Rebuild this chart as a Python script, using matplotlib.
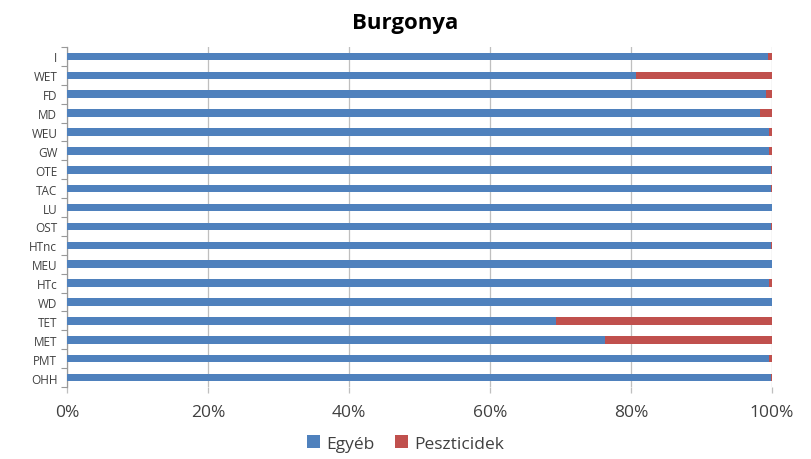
import numpy as np
import matplotlib.pyplot as plt

plt.rcParams['font.family'] = ['Open Sans', 'DejaVu Sans']

categories = ["I", "WET", "FD", "MD", "WEU", "GW", "OTE", "TAC", "LU", "OST",
              "HTnc", "MEU", "HTc", "WD", "TET", "MET", "PMT", "OHH"]
egyeb = [99.4, 80.7, 99.1, 98.3, 99.5, 99.6, 99.8, 99.9, 99.95, 99.9,
         99.8, 99.95, 99.6, 99.95, 69.4, 76.3, 99.6, 99.8]
peszticidek = [100 - v for v in egyeb]

blue = "#4F81BD"
red = "#C0504D"

fig = plt.figure(figsize=(8.11, 4.6), dpi=100)
ax = fig.add_axes([0.0826, 0.1565, 0.8694, 0.7392])

y = np.arange(len(categories))[::-1]
ax.barh(y, egyeb, height=0.4, color=blue, label="Egyéb", zorder=3)
ax.barh(y, peszticidek, left=egyeb, height=0.4, color=red,
        label="Peszticidek", zorder=3)

ax.set_xlim(0, 100)
ax.set_ylim(-0.5, len(categories) - 0.5)
ax.set_xticks(np.arange(0, 101, 20))
ax.set_xticklabels([f"{v}%" for v in range(0, 101, 20)], fontsize=12.5,
                   color="#404040")
ax.set_yticks(y)
ax.set_yticklabels(categories, fontsize=8.5, color="#404040")
ax.set_yticks(np.arange(-0.5, len(categories), 1), minor=True)

ax.grid(axis="x", color="#BFBFBF", linewidth=0.9, zorder=0)
ax.tick_params(axis="y", which="major", length=0, pad=7)
ax.tick_params(axis="y", which="minor", length=4, color="#999999", width=0.8)
ax.tick_params(axis="x", length=4, color="#BFBFBF", width=0.9, pad=8)

for side in ("top", "right", "bottom"):
    ax.spines[side].set_visible(False)
ax.spines["left"].set_color("#999999")
ax.spines["left"].set_linewidth(0.9)

fig.suptitle("Burgonya", x=0.5, y=0.972, fontsize=16, fontweight="bold")

fig.legend(loc="lower center", bbox_to_anchor=(0.5, -0.018), ncol=2,
           frameon=False, fontsize=12.5, handlelength=0.75, handleheight=0.75,
           handletextpad=0.35, columnspacing=1.2, labelcolor="#404040")

fig.savefig("out.png", dpi=100)
